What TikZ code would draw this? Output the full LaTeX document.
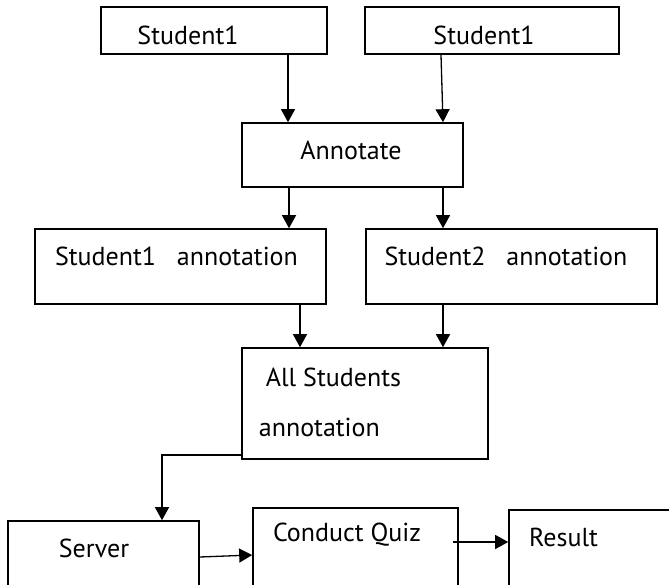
\documentclass[tikz,border=0pt]{standalone}
\usepackage{fontspec}
\setmainfont{PT Sans}
\usetikzlibrary{arrows.meta, calc}

\begin{document}
\begin{tikzpicture}[x=1pt, y=-1pt,
  box/.style={draw, line width=1.6pt, inner sep=0pt},
  txt/.style={font=\fontsize{26}{31}\selectfont, inner sep=0pt},
  arr/.style={-{Triangle[length=13pt, width=14pt]}, line width=1.3pt}
]
\clip (0,0) rectangle (669,584);
\node[box, minimum width=226, minimum height=47, label={[txt, xshift=-26, yshift=-4.5]center:Student1}] (stud1a) at (214,30.5) {};
\node[box, minimum width=254, minimum height=47, label={[txt, xshift=-8, yshift=-4.5]center:Student1}] (stud1b) at (492,30.5) {};
\node[box, minimum width=221, minimum height=64, label={[txt, xshift=-1.5, yshift=5]center:Annotate}] (annot) at (352.5,155) {};
\node[box, minimum width=291, minimum height=75, label={[txt, xshift=-4, yshift=10.5]center:Student1~~~annotation}] (ann1) at (180.5,266.5) {};
\node[box, minimum width=291, minimum height=75, label={[txt, xshift=-5.5, yshift=10.5]center:Student2~~~annotation}] (ann2) at (511.5,266.5) {};
\node[box, minimum width=246, minimum height=111, label={[txt, align=left, xshift=-35, yshift=1.5]center:{\hspace*{7pt}All Students\\[19pt]annotation}}] (allann) at (365,403.5) {};
\node[box, minimum width=191, minimum height=79, label={[txt, xshift=-9.5, yshift=12.5]center:Server}] (server) at (103.5,560.5) {};
\node[box, minimum width=205, minimum height=92, label={[txt, xshift=-8.5, yshift=19]center:Conduct Quiz}] (quiz) at (355.5,554) {};
\node[box, minimum width=191, minimum height=90, label={[txt, xshift=-41, yshift=18]center:Result}] (result) at (604.5,555) {};

\draw[arr] ([xshift=74]stud1a.south) -- ([xshift=-64.5]annot.north);
\draw[arr] ([xshift=-51]stud1b.south) -- ([xshift=90.5]annot.north);
\draw[arr] ([xshift=-63.5]annot.south) -- ([xshift=-63.5]annot.south |- ann1.north);
\draw[arr] ([xshift=90.5]annot.south) -- ([xshift=90.5]annot.south |- ann2.north);
\draw[arr] ([xshift=119.5]ann1.south) -- ([xshift=119.5]ann1.south |- allann.north);
\draw[arr] ([xshift=-68.5]ann2.south) -- ([xshift=-68.5]ann2.south |- allann.north);
\draw[arr] ([yshift=-51.5]allann.west) -| ([xshift=58.5]server.north);
\draw[arr] ([yshift=3.5]server.east) -- ([yshift=-1]quiz.west);
\coordinate (qr) at ([xshift=-6, yshift=12]quiz.east);
\draw[arr] (qr) -- (qr -| result.west);
\end{tikzpicture}
\end{document}
